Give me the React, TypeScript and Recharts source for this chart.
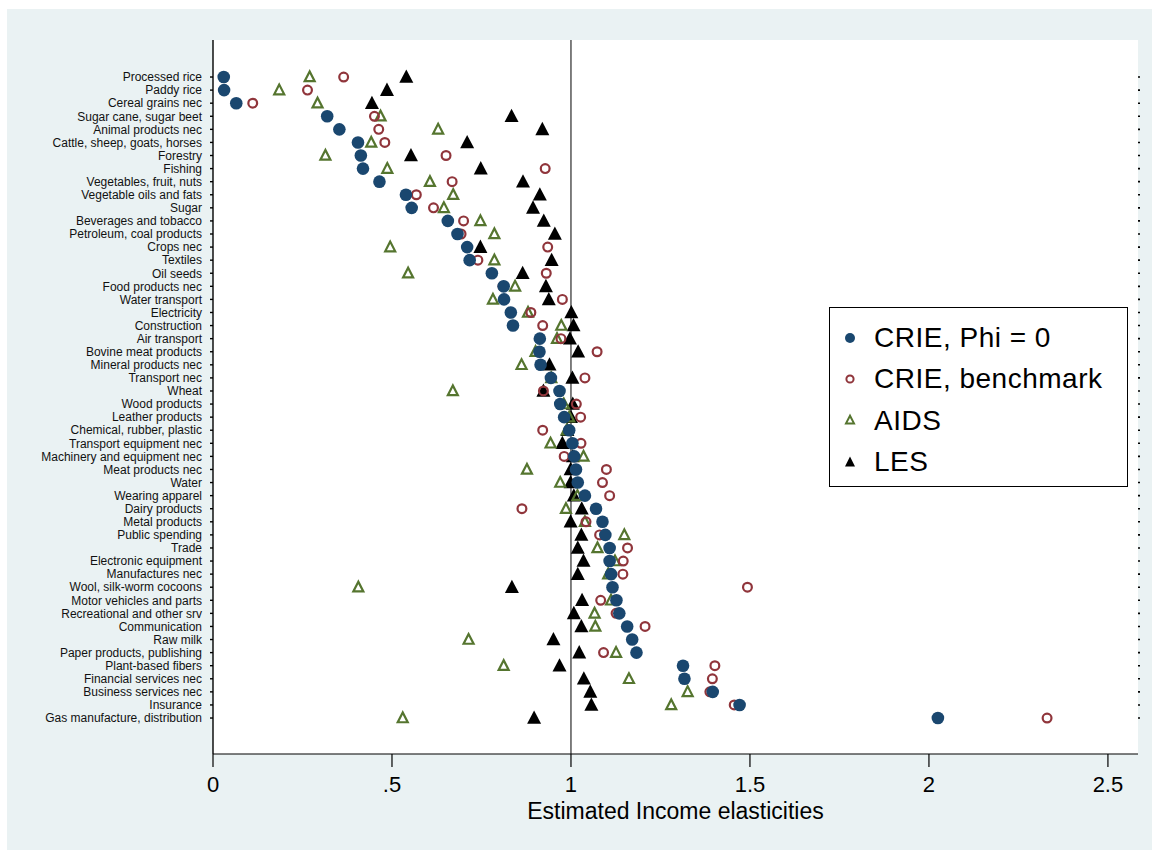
import React from 'react';
import { ScatterChart, Scatter, XAxis, YAxis, CartesianGrid, ReferenceLine, Legend } from 'recharts';

const CATEGORIES = [
  'Processed rice', 'Paddy rice', 'Cereal grains nec', 'Sugar cane, sugar beet', 'Animal products nec',
  'Cattle, sheep, goats, horses', 'Forestry', 'Fishing', 'Vegetables, fruit, nuts', 'Vegetable oils and fats',
  'Sugar', 'Beverages and tobacco', 'Petroleum, coal products', 'Crops nec', 'Textiles',
  'Oil seeds', 'Food products nec', 'Water transport', 'Electricity', 'Construction',
  'Air transport', 'Bovine meat products', 'Mineral products nec', 'Transport nec', 'Wheat',
  'Wood products', 'Leather products', 'Chemical, rubber, plastic', 'Transport equipment nec', 'Machinery and equipment nec',
  'Meat products nec', 'Water', 'Wearing apparel', 'Dairy products', 'Metal products',
  'Public spending', 'Trade', 'Electronic equipment', 'Manufactures nec', 'Wool, silk-worm cocoons',
  'Motor vehicles and parts', 'Recreational and other srv', 'Communication', 'Raw milk', 'Paper products, publishing',
  'Plant-based fibers', 'Financial services nec', 'Business services nec', 'Insurance', 'Gas manufacture, distribution',
];

const CRIE_PHI0 = [
  0.03, 0.031, 0.065, 0.319, 0.353, 0.405, 0.413, 0.419, 0.465, 0.539,
  0.555, 0.656, 0.683, 0.71, 0.717, 0.779, 0.812, 0.813, 0.832, 0.838,
  0.913, 0.912, 0.915, 0.944, 0.968, 0.97, 0.981, 0.995, 1.004, 1.009,
  1.014, 1.019, 1.039, 1.07, 1.088, 1.096, 1.108, 1.108, 1.112, 1.116,
  1.127, 1.135, 1.157, 1.171, 1.183, 1.313, 1.317, 1.396, 1.471, 2.025,
];

const CRIE_BENCH = [
  0.365, 0.264, 0.111, 0.451, 0.463, 0.48, 0.651, 0.928, 0.668, 0.568,
  0.616, 0.7, 0.693, 0.935, 0.74, 0.931, 0.81, 0.976, 0.888, 0.921,
  0.972, 1.073, 0.915, 1.039, 0.923, 1.015, 1.027, 0.921, 1.028, 0.981,
  1.099, 1.088, 1.108, 0.863, 1.042, 1.08, 1.158, 1.146, 1.145, 1.493,
  1.083, 1.126, 1.207, 1.171, 1.091, 1.402, 1.395, 1.388, 1.456, 2.33,
];

const AIDS = [
  0.27, 0.185, 0.292, 0.468, 0.629, 0.442, 0.314, 0.487, 0.606, 0.671,
  0.645, 0.747, 0.786, 0.495, 0.786, 0.545, 0.844, 0.782, 0.88, 0.973,
  0.961, 0.901, 0.862, 0.945, 0.67, 0.98, 0.995, 0.988, 0.943, 1.035,
  0.877, 0.97, 1.018, 0.986, 1.039, 1.149, 1.074, 1.123, 1.104, 0.406,
  1.112, 1.066, 1.068, 0.714, 1.126, 0.812, 1.162, 1.326, 1.28, 0.53,
];

const LES = [
  0.54, 0.486, 0.444, 0.834, 0.92, 0.71, 0.553, 0.748, 0.866, 0.913,
  0.894, 0.924, 0.955, 0.747, 0.946, 0.865, 0.93, 0.938, 1.001, 1.007,
  0.997, 1.02, 0.94, 1.004, 0.923, 1.005, 1.0, 0.99, 0.976, 1.005,
  0.999, 0.999, 1.008, 1.03, 0.999, 1.029, 1.019, 1.035, 1.019, 0.835,
  1.031, 1.008, 1.029, 0.951, 1.023, 0.968, 1.036, 1.054, 1.057, 0.897,
];

const X_TICKS = [0, 0.5, 1, 1.5, 2, 2.5];
const X_TICK_LABELS = ['0', '.5', '1', '1.5', '2', '2.5'];

const NAVY = '#1a476f';
const MAROON = '#90353b';
const GREEN = '#55752f';
const FONT = '"Liberation Sans", Arial, sans-serif';

const toPoints = (vals: number[]) => vals.map((v, i) => ({ x: v, y: i, name: CATEGORIES[i] }));
const rowTicks = CATEGORIES.map((_, i) => i);

const triPoints = (cx: number, cy: number, w: number, up: number, down: number) =>
  `${cx},${cy - up} ${cx - w / 2},${cy + down} ${cx + w / 2},${cy + down}`;

const BlueDot = (p: any) => <circle cx={p.cx} cy={p.cy} r={6.3} fill={NAVY} />;
const RedRing = (p: any) => <circle cx={p.cx} cy={p.cy} r={4.4} fill="none" stroke={MAROON} strokeWidth={2.2} />;
const GreenTri = (p: any) => (
  <polygon points={triPoints(p.cx, p.cy, 10, 5.5, 4.2)} fill="none" stroke={GREEN} strokeWidth={2.2} strokeLinejoin="miter" />
);
const BlackTri = (p: any) => <polygon points={triPoints(p.cx, p.cy, 14, 7.5, 5.8)} fill="#000" />;

const legendItems = [
  { label: 'CRIE, Phi = 0', icon: <circle cx={10} cy={10} r={5} fill={NAVY} /> },
  { label: 'CRIE, benchmark', icon: <circle cx={10} cy={10} r={3.6} fill="none" stroke={MAROON} strokeWidth={2} /> },
  { label: 'AIDS', icon: <polygon points={triPoints(10, 10, 8, 4.3, 3.4)} fill="none" stroke={GREEN} strokeWidth={2} /> },
  { label: 'LES', icon: <polygon points={triPoints(10, 10, 10, 5.6, 4.4)} fill="#000" /> },
];

const LegendBox = () => (
  <div
    style={{
      width: 297,
      height: 169,
      border: '1px solid #000',
      background: '#fff',
      boxSizing: 'content-box',
      paddingTop: 9,
      fontFamily: FONT,
    }}
  >
    {legendItems.map((it) => (
      <div key={it.label} style={{ display: 'flex', alignItems: 'center', height: 41.3, paddingLeft: 10 }}>
        <svg width={20} height={20} style={{ marginRight: 14 }}>
          {it.icon}
        </svg>
        <span style={{ fontSize: 28, letterSpacing: 0.5, color: '#000', lineHeight: '41px' }}>{it.label}</span>
      </div>
    ))}
  </div>
);

export default function App() {
  return (
    <div style={{ position: 'absolute', left: 0, top: 0, width: 1152, height: 851, background: '#fff' }}>
      <div style={{ position: 'absolute', left: 7, top: 9, width: 1145, height: 841, background: '#eaf2f3' }} />
      <div style={{ position: 'absolute', left: 0, top: 0 }}>
        <ScatterChart width={1152} height={851} margin={{ top: 40, right: 10, bottom: 27, left: 0 }}>
          <CartesianGrid horizontal={false} vertical={false} fill="#fff" stroke="none" />
          <XAxis
            type="number"
            dataKey="x"
            domain={[0, 2.584]}
            ticks={X_TICKS}
            allowDataOverflow
            tickFormatter={(v: number) => X_TICK_LABELS[X_TICKS.indexOf(v)] ?? String(v)}
            height={70}
            tickSize={13}
            tickMargin={9}
            axisLine={{ stroke: '#000', strokeWidth: 1.2 }}
            tickLine={{ stroke: '#000', strokeWidth: 1.2 }}
            tick={{ fill: '#000', fontSize: 22, fontFamily: FONT }}
            label={{ value: 'Estimated Income elasticities', position: 'insideBottom', offset: 5, fill: '#000', fontSize: 23, fontFamily: FONT }}
          />
          <YAxis
            type="number"
            dataKey="y"
            domain={[-2.83, 51.75]}
            reversed
            ticks={rowTicks}
            interval={0}
            allowDataOverflow
            tickFormatter={(i: number) => CATEGORIES[i] ?? ''}
            width={213}
            tickSize={3}
            tickMargin={8}
            axisLine={{ stroke: '#000', strokeWidth: 1.4 }}
            tickLine={{ stroke: '#000', strokeWidth: 1.4 }}
            tick={{ fill: '#111', fontSize: 12, fontFamily: FONT }}
          />
          <YAxis
            yAxisId="r"
            orientation="right"
            type="number"
            dataKey="y"
            domain={[-2.83, 51.75]}
            reversed
            ticks={rowTicks}
            interval={0}
            allowDataOverflow
            tickFormatter={() => ''}
            width={4}
            tickSize={2}
            axisLine={false}
            tickLine={{ stroke: '#000', strokeWidth: 1.6 }}
          />
          <ReferenceLine x={1} stroke="#000" strokeWidth={1} />
          <Legend
            layout="vertical"
            align="center"
            verticalAlign="middle"
            wrapperStyle={{ left: 829, top: 307 }}
            content={() => <LegendBox />}
          />
          <Scatter name="empty" yAxisId="r" data={[]} isAnimationActive={false} legendType="none" />
          <Scatter name="LES" data={toPoints(LES)} shape={BlackTri} isAnimationActive={false} />
          <Scatter name="AIDS" data={toPoints(AIDS)} shape={GreenTri} isAnimationActive={false} />
          <Scatter name="CRIE, benchmark" data={toPoints(CRIE_BENCH)} shape={RedRing} isAnimationActive={false} />
          <Scatter name="CRIE, Phi = 0" data={toPoints(CRIE_PHI0)} shape={BlueDot} isAnimationActive={false} />
        </ScatterChart>
      </div>
    </div>
  );
}
